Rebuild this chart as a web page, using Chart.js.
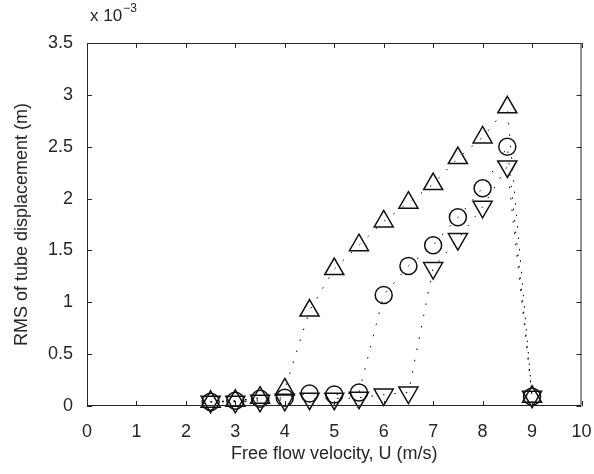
<!DOCTYPE html>
<html>
<head>
<meta charset="utf-8">
<script src="https://cdn.jsdelivr.net/npm/chart.js@4.4.0/dist/chart.umd.min.js"></script>
<style>
  html, body { margin: 0; padding: 0; background: #fff; }
  #wrap { width: 594px; height: 474px; }
</style>
</head>
<body>
<div id="wrap"><canvas id="rmsChart" width="594" height="474"></canvas></div>
<script>
// Free flow velocity U (m/s)
const velocity = [2.5, 3, 3.5, 4, 4.5, 5, 5.5, 6, 6.5, 7, 7.5, 8, 8.5, 9];
// RMS of tube displacement, in units of 1e-3 m
const rmsUp     = [0.04, 0.05, 0.08, 0.16, 0.92, 1.32, 1.55, 1.78, 1.96, 2.14, 2.39, 2.59, 2.88, 0.09];
const rmsCircle = [0.04, 0.05, 0.07, 0.08, 0.12, 0.11, 0.13, 1.07, 1.35, 1.55, 1.82, 2.10, 2.50, 0.09];
const rmsDown   = [0.04, 0.04, 0.05, 0.06, 0.07, 0.07, 0.08, 0.11, 0.13, 1.33, 1.61, 1.92, 2.31, 0.09];

const xTicks = [0, 1, 2, 3, 4, 5, 6, 7, 8, 9, 10];
const yTicks = [0, 0.5, 1, 1.5, 2, 2.5, 3, 3.5];

const ink = "#262626";
const font = "Liberation Sans, Arial, sans-serif";

function pts(ys) {
    return velocity.map((v, i) => ({ x: v, y: ys[i] }));
}

function series(ys, style, radius, rotation) {
    return {
        data: pts(ys),
        showLine: true,
        borderColor: "#000",
        borderWidth: 1,
        borderDash: [1.5, 10],
        pointStyle: style,
        pointRadius: radius,
        pointRotation: rotation,
        pointBorderWidth: 1.5,
        pointBorderColor: "#111",
        pointBackgroundColor: "rgba(0,0,0,0)",
        clip: false
    };
}

// box, inward ticks and the exponent note, MATLAB style
const frame = {
    id: "frame",
    afterDraw(chart) {
        const { ctx, chartArea: a, scales } = chart;
        const xs = scales.x, ys = scales.y;
        ctx.save();
        ctx.strokeStyle = ink;
        ctx.lineWidth = 1;
        ctx.beginPath();
        ctx.rect(a.left + 0.5, a.top + 0.5, a.right - a.left - 1, a.bottom - a.top - 1);
        xTicks.forEach(t => {
            const px = Math.round(xs.getPixelForValue(t)) + 0.5;
            ctx.moveTo(px, a.bottom); ctx.lineTo(px, a.bottom - 5);
            ctx.moveTo(px, a.top); ctx.lineTo(px, a.top + 5);
        });
        yTicks.forEach(t => {
            const py = Math.round(ys.getPixelForValue(t)) + 0.5;
            ctx.moveTo(a.left, py); ctx.lineTo(a.left + 5, py);
            ctx.moveTo(a.right, py); ctx.lineTo(a.right - 5, py);
        });
        ctx.stroke();

        ctx.fillStyle = ink;
        ctx.textBaseline = "alphabetic";
        ctx.font = "17px " + font;
        ctx.fillText("x 10", 90, 21);
        const w = ctx.measureText("x 10").width;
        ctx.font = "12px " + font;
        ctx.fillText("\u22123", 90 + w + 1, 12);
        ctx.restore();
    }
};

new Chart(document.getElementById("rmsChart"), {
    type: "scatter",
    data: {
        datasets: [
            series(rmsUp, "triangle", 11, 0),
            series(rmsCircle, "circle", 8.5, 0),
            series(rmsDown, "triangle", 11, 180)
        ]
    },
    options: {
        responsive: false,
        animation: false,
        layout: { padding: { top: 43, right: 7, left: 0, bottom: 0 } },
        plugins: { legend: { display: false }, tooltip: { enabled: false } },
        scales: {
            x: {
                type: "linear", min: 0, max: 10,
                afterBuildTicks: s => { s.ticks = xTicks.map(v => ({ value: v })); },
                afterFit: s => { s.height = 68; s.paddingLeft = 0; s.paddingRight = 0; },
                grid: { display: false, drawTicks: false },
                border: { display: false },
                ticks: { color: ink, font: { family: font, size: 18 }, padding: 15, autoSkip: false, maxRotation: 0, callback: v => String(v) },
                title: { display: true, text: "Free flow velocity, U (m/s)", color: ink, font: { family: font, size: 18 }, padding: { top: 0, bottom: 9 } }
            },
            y: {
                type: "linear", min: 0, max: 3.5,
                afterBuildTicks: s => { s.ticks = yTicks.map(v => ({ value: v })); },
                afterFit: s => { s.width = 87; },
                grid: { display: false, drawTicks: false },
                border: { display: false },
                ticks: { color: ink, font: { family: font, size: 18 }, padding: 14, callback: v => String(v) },
                title: { display: true, text: "RMS of tube displacement (m)", color: ink, font: { family: font, size: 18 }, padding: { top: 11 } }
            }
        }
    },
    plugins: [frame]
});
</script>
</body>
</html>
